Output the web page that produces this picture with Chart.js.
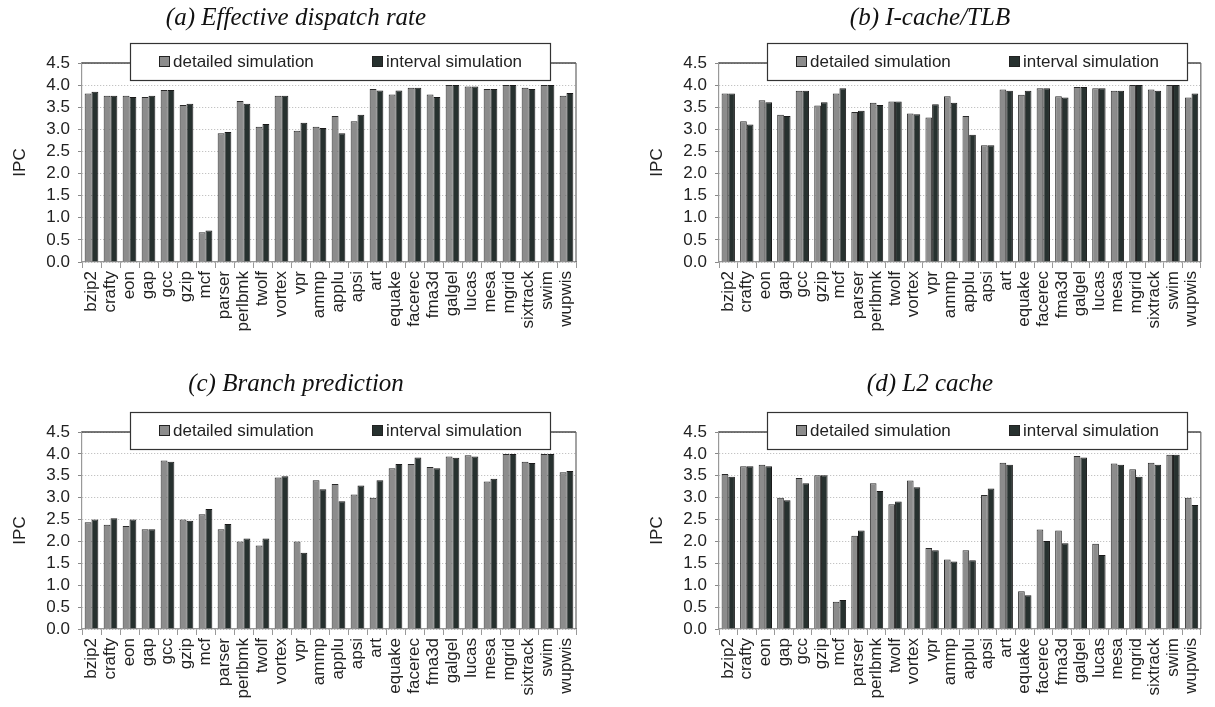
<!DOCTYPE html>
<html><head><meta charset="utf-8">
<script src="https://cdn.jsdelivr.net/npm/chart.js@4/dist/chart.umd.min.js"></script>
<style>
body{margin:0;background:#fff;width:1215px;height:707px;position:relative;overflow:hidden}
.p{position:absolute}
</style></head><body>
<div class="p" style="left:0;top:0"><canvas id="ca" width="592" height="350"></canvas></div>
<div class="p" style="left:645px;top:0"><canvas id="cb" width="570" height="350"></canvas></div>
<div class="p" style="left:0;top:369px"><canvas id="cc" width="592" height="338"></canvas></div>
<div class="p" style="left:645px;top:369px"><canvas id="cd" width="570" height="338"></canvas></div>
<script>
const categories = ["bzip2","crafty","eon","gap","gcc","gzip","mcf","parser","perlbmk","twolf","vortex","vpr","ammp","applu","apsi","art","equake","facerec","fma3d","galgel","lucas","mesa","mgrid","sixtrack","swim","wupwis"];
const seriesNames = ["detailed simulation","interval simulation"];
const panelTitles = ["(a) Effective dispatch rate","(b) I-cache/TLB","(c) Branch prediction","(d) L2 cache"];
const yTickValues = [0.0,0.5,1.0,1.5,2.0,2.5,3.0,3.5,4.0,4.5];

const dispatchDetailed = [3.81,3.76,3.76,3.73,3.89,3.55,0.67,2.91,3.64,3.06,3.76,2.97,3.06,3.30,3.18,3.91,3.79,3.94,3.79,4.00,3.97,3.91,4.00,3.94,4.00,3.76];
const dispatchInterval = [3.85,3.76,3.73,3.76,3.89,3.58,0.71,2.94,3.58,3.12,3.76,3.15,3.03,2.91,3.33,3.88,3.88,3.94,3.73,4.00,3.97,3.91,4.00,3.91,4.00,3.82];

const icacheDetailed = [3.81,3.18,3.66,3.33,3.87,3.54,3.81,3.39,3.60,3.63,3.36,3.27,3.75,3.30,2.64,3.90,3.78,3.93,3.75,3.96,3.93,3.87,4.00,3.90,4.00,3.72];
const icacheInterval = [3.81,3.11,3.61,3.30,3.87,3.61,3.93,3.42,3.55,3.63,3.34,3.57,3.60,2.88,2.64,3.87,3.87,3.93,3.72,3.96,3.93,3.87,4.00,3.87,4.00,3.81];

const branchDetailed = [2.44,2.38,2.35,2.28,3.85,2.50,2.62,2.28,2.00,1.91,3.46,2.00,3.40,3.31,3.07,3.00,3.67,3.77,3.70,3.94,3.97,3.37,4.00,3.82,4.00,3.58];
const branchInterval = [2.50,2.53,2.50,2.28,3.82,2.47,2.74,2.40,2.07,2.07,3.49,1.74,3.19,2.92,3.28,3.40,3.77,3.92,3.67,3.91,3.94,3.43,4.00,3.79,4.00,3.61];

const l2Detailed = [3.54,3.72,3.75,3.00,3.45,3.51,0.62,2.13,3.33,2.85,3.39,1.85,1.59,1.80,3.06,3.80,0.86,2.27,2.25,3.95,1.95,3.78,3.65,3.80,3.98,3.00];
const l2Interval = [3.48,3.72,3.72,2.94,3.33,3.51,0.66,2.25,3.15,2.91,3.24,1.80,1.54,1.57,3.21,3.75,0.77,2.01,1.96,3.92,1.69,3.75,3.48,3.75,3.98,2.83];

const detailedColor = '#8c8c8c';
const intervalColor = '#27312f';
const FONT = '"Liberation Sans", Arial, sans-serif';

const framePlugin = {
  id: 'frame',
  afterDraw(chart, args, opts) {
    const {ctx, chartArea: a} = chart;
    ctx.save();
    ctx.strokeStyle = '#4a4a4a';
    ctx.lineWidth = 1.5;
    ctx.beginPath();
    ctx.moveTo(a.left, a.top); ctx.lineTo(a.right, a.top);
    ctx.stroke();
    ctx.strokeStyle = '#666';
    ctx.lineWidth = 1.2;
    ctx.beginPath();
    ctx.moveTo(a.right, a.top); ctx.lineTo(a.right, a.bottom);
    ctx.stroke();
    // legend box
    const bx = a.left + 48, by = a.top - 20, bw = 420, bh = 37;
    ctx.fillStyle = '#fff';
    ctx.fillRect(bx, by, bw, bh);
    ctx.strokeStyle = '#333';
    ctx.lineWidth = 1.2;
    ctx.strokeRect(bx + 0.5, by + 0.5, bw, bh);
    const offs = [29, 242];
    ctx.font = '17px ' + FONT;
    ctx.textBaseline = 'middle';
    ctx.textAlign = 'left';
    chart.data.datasets.forEach((ds, i) => {
      const sx = bx + offs[i], sy = by + bh / 2 - 5.5;
      ctx.fillStyle = ds.backgroundColor;
      ctx.fillRect(sx, sy, 11, 11);
      ctx.strokeStyle = '#222';
      ctx.lineWidth = 1;
      ctx.strokeRect(sx + 0.5, sy + 0.5, 10, 10);
      ctx.fillStyle = '#222';
      ctx.fillText(ds.label, sx + 14, by + bh / 2 + 1);
    });
    // title
    ctx.font = 'italic 25px "Liberation Serif", "Times New Roman", serif';
    ctx.textAlign = 'center';
    ctx.fillStyle = '#111';
    ctx.fillText(opts.text, chart.width / 2, opts.y);
    ctx.restore();
  }
};

function makeChart(id, title, detailed, interval, cfg) {
  return new Chart(document.getElementById(id), {
    type: 'bar',
    data: {
      labels: categories,
      datasets: [
        {label: seriesNames[0], data: detailed, backgroundColor: detailedColor, borderColor: '#2a2a2a', borderWidth: 1},
        {label: seriesNames[1], data: interval, backgroundColor: intervalColor, borderColor: '#1a1a1a', borderWidth: 1}
      ]
    },
    options: {
      responsive: false,
      animation: false,
      events: [],
      datasets: {bar: {categoryPercentage: 0.72, barPercentage: 1.0}},
      layout: {padding: {top: 63, right: cfg.padRight, left: 0, bottom: 0}},
      plugins: {
        legend: {display: false},
        tooltip: {enabled: false},
        title: {display: false},
        frame: {text: title, y: cfg.titleY}
      },
      scales: {
        x: {
          afterFit: s => { s.height = cfg.xh; },
          grid: {display: true, drawOnChartArea: false, offset: true, tickLength: 6, tickColor: '#999', color: '#999'},
          border: {display: true, color: '#999', width: 1.2},
          ticks: {autoSkip: false, maxRotation: 90, minRotation: 90, padding: 3, color: '#222', font: {family: FONT, size: 17}}
        },
        y: {
          min: 0, max: 4.5,
          afterFit: s => { s.width = cfg.yw; },
          afterBuildTicks: s => { s.ticks = yTickValues.map(v => ({value: v})); },
          grid: {color: '#b5b5b5', lineWidth: 1, tickLength: 4, tickColor: '#888', tickBorderDash: []},
          border: {display: true, color: '#999', width: 1.2, dash: [1, 2]},
          ticks: {autoSkip: false, padding: 8, color: '#222', font: {family: FONT, size: 17}, callback: v => Number(v).toFixed(1)},
          title: {display: true, text: 'IPC', color: '#222', font: {family: FONT, size: 17}, padding: {top: cfg.yw - 72, bottom: 0}}
        }
      }
    },
    plugins: [framePlugin]
  });
}

makeChart('ca', panelTitles[0], dispatchDetailed, dispatchInterval, {padRight: 16, xh: 88, yw: 82, titleY: 18});
makeChart('cb', panelTitles[1], icacheDetailed, icacheInterval, {padRight: 2, xh: 88, yw: 74, titleY: 18});
makeChart('cc', panelTitles[2], branchDetailed, branchInterval, {padRight: 16, xh: 78, yw: 82, titleY: 15});
makeChart('cd', panelTitles[3], l2Detailed, l2Interval, {padRight: 2, xh: 78, yw: 74, titleY: 15});
</script>
</body></html>
